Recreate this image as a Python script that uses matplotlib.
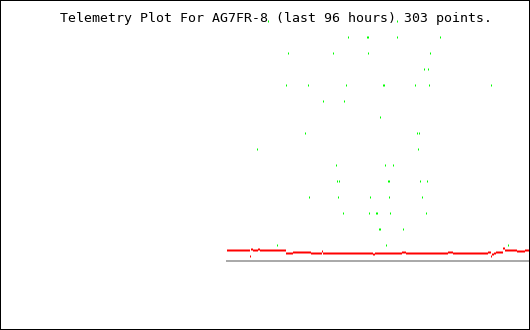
import numpy as np
import matplotlib
matplotlib.use("Agg")
import matplotlib.pyplot as plt

title = "Telemetry Plot For AG7FR-8 (last 96 hours) 303 points."
n_points = 303

# green channel: sample index and level
green_idx = [41, 170,
             121, 140, 141, 170, 213,
             61, 106, 141, 203,
             197, 201,
             59, 81, 119, 156, 157, 188, 202, 264,
             96, 117,
             153,
             78, 190, 192,
             30, 191,
             109, 158, 166,
             110, 112, 161, 162, 193, 200,
             82, 111, 143, 162, 195,
             116, 142, 149, 150, 163, 199,
             152, 153, 176,
             50, 159, 281]
green_val = [15, 15,
             14, 14, 14, 14, 14,
             13, 13, 13, 13,
             12, 12,
             11, 11, 11, 11, 11, 11, 11, 11,
             10, 10,
             9,
             8, 8, 8,
             7, 7,
             6, 6, 6,
             5, 5, 5, 5, 5, 5,
             4, 4, 4, 4, 4,
             3, 3, 3, 3, 3, 3,
             2, 2, 2,
             1, 1, 1]

# red channel stored as runs (value, number of consecutive samples)
red_run_val = [0.6875, 0.3125, 0.75, 0.6875, 0.75, 0.6875, 0.5, 0.5625, 0.5,
               0.625, 0.5, 0.4375, 0.5, 0.5625, 0.5, 0.5625, 0.5, 0.5625,
               0.3125, 0.4375, 0.5, 0.5625, 0.8125, 0.6875, 0.625, 0.6875]
red_run_len = [23, 1, 2, 5, 2, 26, 7, 18, 11,
               1, 50, 2, 27, 4, 42, 5, 35, 3,
               1, 2, 2, 7, 2, 12, 8, 5]

red_val = np.repeat(red_run_val, red_run_len)
red_idx = np.arange(len(red_val))

W, H = 530, 330
fig = plt.figure(figsize=(W / 100, H / 100), dpi=100)
fig.patch.set_facecolor("white")
ax = fig.add_axes([0, 0, 1, 1])
ax.set_xlim(-226.5, 303.5)
ax.set_ylim(-69 / 16, 261 / 16)
ax.set_xticks([])
ax.set_yticks([])
px = 0.72
for s in ax.spines.values():
    s.set_visible(True)
    s.set_color("black")
    s.set_linewidth(2 * px)

ax.hlines(0, -0.5, n_points - 0.5, color="#aaaaaa", lw=2 * px, antialiased=False)
ax.plot(red_idx, red_val, ls="none", marker="|", ms=2 * px, mew=1 * px,
        color="#ff0000", antialiased=False)
ax.plot(green_idx, green_val, ls="none", marker="|", ms=2 * px, mew=1 * px,
        color="#00ff00", antialiased=False, zorder=5)

fig.text(60 / W, 1 - 22.3 / H, title, family="DejaVu Sans Mono", fontsize=9.53,
         ha="left", va="baseline", color="black")

fig.savefig("out.png", dpi=100)
